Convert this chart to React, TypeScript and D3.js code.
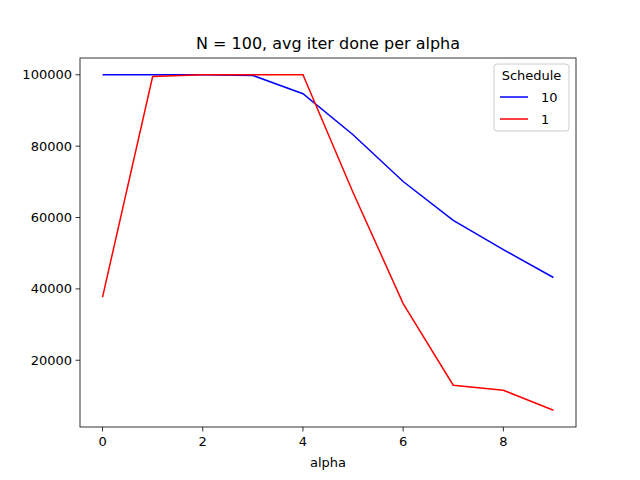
import React from "react";
import * as d3 from "d3";

const alpha = [0, 1, 2, 3, 4, 5, 6, 7, 8, 9];
const sched10 = [100000, 100000, 100000, 99800, 94700, 83200, 70100, 59200, 51000, 43200];
const sched1 = [37700, 99500, 100000, 100000, 100000, 67000, 35900, 13000, 11600, 6000];
const xTicks = [0, 2, 4, 6, 8];
const yTicks = [20000, 40000, 60000, 80000, 100000];

export default function App() {
  const L = 80, R = 576, T = 58, B = 427;
  const x = d3.scaleLinear().domain([-0.45, 9.45]).range([L, R]);
  const ymin = 6000, ymax = 100000, m = (ymax - ymin) * 0.05;
  const y = d3.scaleLinear().domain([ymin - m, ymax + m]).range([B, T]);
  const line = d3.line<number>().x((_, i) => x(alpha[i])).y((d) => y(d));
  const font = "DejaVu Sans";
  const fs = 13;
  return (
    <svg width={640} height={480} style={{ position: "absolute", left: 0, top: 0 }} fontFamily={font}>
      <rect width={640} height={480} fill="white" />
      <path d={line(sched10)!} fill="none" stroke="blue" strokeWidth={1.5} />
      <path d={line(sched1)!} fill="none" stroke="red" strokeWidth={1.5} />
      <rect x={L} y={T} width={R - L} height={B - T} fill="none" stroke="black" strokeWidth={0.8} />
      {xTicks.map((t) => (
        <g key={t}>
          <line x1={x(t)} x2={x(t)} y1={B} y2={B + 4.5} stroke="black" strokeWidth={0.8} />
          <text x={x(t)} y={B + 19} fontSize={fs} textAnchor="middle">{t}</text>
        </g>
      ))}
      {yTicks.map((t) => (
        <g key={t}>
          <line x1={L - 4.5} x2={L} y1={y(t)} y2={y(t)} stroke="black" strokeWidth={0.8} />
          <text x={L - 8} y={y(t) + 4.5} fontSize={fs} textAnchor="end">{t}</text>
        </g>
      ))}
      <text x={(L + R) / 2} y={467} fontSize={fs} textAnchor="middle">alpha</text>
      <text x={(L + R) / 2} y={49} fontSize={16} textAnchor="middle">N = 100, avg iter done per alpha</text>
      <g>
        <rect x={494} y={64} width={75} height={67} fill="white" stroke="#cccccc" rx={3} />
        <text x={531.5} y={80} fontSize={fs} textAnchor="middle">Schedule</text>
        <line x1={500} x2={528} y1={97} y2={97} stroke="blue" strokeWidth={1.5} />
        <text x={541} y={102} fontSize={fs}>10</text>
        <line x1={500} x2={528} y1={119} y2={119} stroke="red" strokeWidth={1.5} />
        <text x={541} y={124} fontSize={fs}>1</text>
      </g>
    </svg>
  );
}
